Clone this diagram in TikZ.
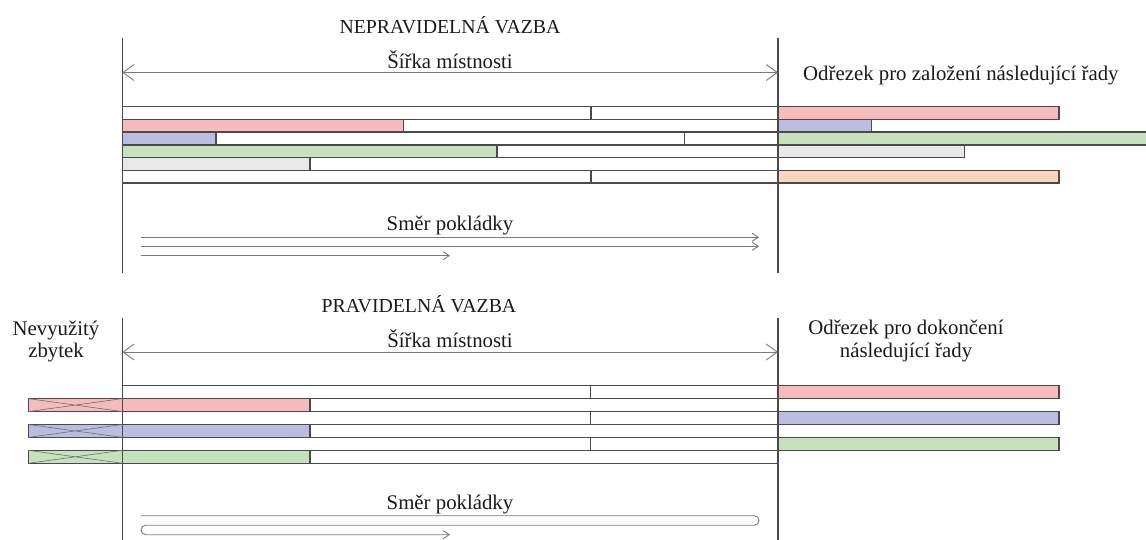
\documentclass[tikz,border=0pt]{standalone}
\usepackage{fontspec}
\setmainfont{Liberation Serif}
\usetikzlibrary{arrows.meta}
\definecolor{bline}{HTML}{4A4A4A}
\definecolor{vline}{HTML}{4A4A4A}
\definecolor{aline}{HTML}{7A7A7A}
\definecolor{pinkc}{HTML}{F7BBBD}
\definecolor{bluec}{HTML}{BCBCE0}
\definecolor{greenc}{HTML}{C5E2BD}
\definecolor{greyc}{HTML}{E8E8E8}
\definecolor{orangec}{HTML}{FCD6BC}
\definecolor{txt}{HTML}{1A1A1A}
\begin{document}
\begin{tikzpicture}[x=1pt,y=-1pt,
  board/.style={draw=bline,line width=1.4pt},
  wall/.style={draw=vline,line width=1.4pt},
  dimline/.style={draw=aline,line width=0.9pt,{Straight Barb[length=11pt,width=16pt]}-{Straight Barb[length=11pt,width=16pt]}},
  dirline/.style={draw=aline,line width=0.9pt,-{Straight Barb[length=6pt,width=8pt]}},
  xline/.style={draw=bline!80,line width=0.6pt},
  lbl/.style={font=\fontsize{20.8}{23}\selectfont,text=txt,inner sep=0pt},
  ttl/.style={font=\fontsize{19.8}{22}\selectfont,text=txt,inner sep=0pt}]
\clip (0,0) rectangle (1146,540);
\fill[white] (0,0) rectangle (1146,540);

% ---------------- top: irregular bond ----------------
\node[ttl,anchor=base] (t1) at (450,34) {NEPRAVIDELNÁ VAZBA};
\node[lbl,anchor=base] (w1) at (450,68.5) {Šířka místnosti};
\node[lbl,anchor=base west] (o1) at (803,81) {Odřezek pro založení následující řady};

% row 1
\draw[board] (122.3,106.7) rectangle (591,119.45);
\draw[board] (591,106.7) rectangle (778,119.45);
\draw[board,fill=pinkc] (778,106.7) rectangle (1058.9,119.45);
% row 2
\draw[board,fill=pinkc] (122.3,119.45) rectangle (403.3,132.2);
\draw[board] (403.3,119.45) rectangle (778,132.2);
\draw[board,fill=bluec] (778,119.45) rectangle (871.3,132.2);
% row 3
\draw[board,fill=bluec] (122.3,132.2) rectangle (216,144.95);
\draw[board] (216,132.2) rectangle (684.4,144.95);
\draw[board] (684.4,132.2) rectangle (778,144.95);
\draw[board,fill=greenc] (778,132.2) rectangle (1152,144.95);
% row 4
\draw[board,fill=greenc] (122.3,144.95) rectangle (497,157.7);
\draw[board] (497,144.95) rectangle (778,157.7);
\draw[board,fill=greyc] (778,144.95) rectangle (964.7,157.7);
% row 5
\draw[board,fill=greyc] (122.3,157.7) rectangle (310,170.45);
\draw[board] (310,157.7) rectangle (778,170.45);
% row 6
\draw[board] (122.3,170.45) rectangle (591,183.2);
\draw[board] (591,170.45) rectangle (778,183.2);
\draw[board,fill=orangec] (778,170.45) rectangle (1058.9,183.2);

\coordinate (tl0) at (122.3,38);
\coordinate (tl1) at (122.3,273);
\coordinate (tr0) at (778,38);
\coordinate (tr1) at (778,273);
\draw[wall] (tl0) -- (tl1);
\draw[wall] (tr0) -- (tr1);

\coordinate (dA) at (122.3,72.5);
\coordinate (dB) at (778,72.5);
\draw[dimline] (dA) -- (dB);

\node[lbl,anchor=base] (s1) at (450,231) {Směr pokládky};
\coordinate (a1s) at (141,237.3);
\coordinate (a1e) at (759,237.3);
\coordinate (a2s) at (141,246.3);
\coordinate (a2e) at (759,246.3);
\coordinate (a3s) at (141,255.7);
\coordinate (a3e) at (450,255.7);
\draw[dirline] (a1s) -- (a1e);
\draw[dirline] (a2s) -- (a2e);
\draw[dirline] (a3s) -- (a3e);

% ---------------- bottom: regular bond ----------------
\node[ttl,anchor=base] (t2) at (419,312) {PRAVIDELNÁ VAZBA};
\node[lbl,anchor=base] (w2) at (450,347.5) {Šířka místnosti};
\node[lbl,anchor=base] (n1) at (56,335) {Nevyužitý};
\node[lbl,anchor=base] (n2) at (56,357) {zbytek};
\node[lbl,anchor=base] (o2) at (906,334) {Odřezek pro dokončení};
\node[lbl,anchor=base] (o3) at (906,357) {následující řady};

% row 1
\draw[board] (122.3,385.7) rectangle (590.7,398.6);
\draw[board] (590.7,385.7) rectangle (778,398.6);
\draw[board,fill=pinkc] (778,385.7) rectangle (1059,398.6);
% row 2
\draw[board,fill=pinkc] (28.3,398.6) rectangle (122.3,411.6);
\draw[xline] (28.3,398.6) -- (122.3,411.6) (28.3,411.6) -- (122.3,398.6);
\draw[board,fill=pinkc] (122.3,398.6) rectangle (310,411.6);
\draw[board] (310,398.6) rectangle (778,411.6);
% row 3
\draw[board] (122.3,411.6) rectangle (590.7,424.5);
\draw[board] (590.7,411.6) rectangle (778,424.5);
\draw[board,fill=bluec] (778,411.6) rectangle (1059,424.5);
% row 4
\draw[board,fill=bluec] (28.3,424.5) rectangle (122.3,437.4);
\draw[xline] (28.3,424.5) -- (122.3,437.4) (28.3,437.4) -- (122.3,424.5);
\draw[board,fill=bluec] (122.3,424.5) rectangle (310,437.4);
\draw[board] (310,424.5) rectangle (778,437.4);
% row 5
\draw[board] (122.3,437.4) rectangle (590.7,450.3);
\draw[board] (590.7,437.4) rectangle (778,450.3);
\draw[board,fill=greenc] (778,437.4) rectangle (1059,450.3);
% row 6
\draw[board,fill=greenc] (28.3,450.3) rectangle (122.3,463.3);
\draw[xline] (28.3,450.3) -- (122.3,463.3) (28.3,463.3) -- (122.3,450.3);
\draw[board,fill=greenc] (122.3,450.3) rectangle (310,463.3);
\draw[board] (310,450.3) rectangle (778,463.3);

\coordinate (bl0) at (122.3,318);
\coordinate (bl1) at (122.3,541);
\coordinate (br0) at (778,318);
\coordinate (br1) at (778,541);
\draw[wall] (bl0) -- (bl1);
\draw[wall] (br0) -- (br1);

\coordinate (dC) at (122.3,352);
\coordinate (dD) at (778,352);
\draw[dimline] (dC) -- (dD);

\node[lbl,anchor=base] (s2) at (450,509) {Směr pokládky};
\coordinate (sp0) at (141,515.7);
\coordinate (sp1) at (754.3,515.7);
\coordinate (sp2) at (145.8,525.2);
\coordinate (sp3) at (450,534.7);
\draw[dirline] (sp0) -- (sp1) arc[start angle=-90,end angle=90,radius=4.75]
  -- (sp2) arc[start angle=-90,end angle=-270,radius=4.75] -- (sp3);
\end{tikzpicture}
\end{document}
